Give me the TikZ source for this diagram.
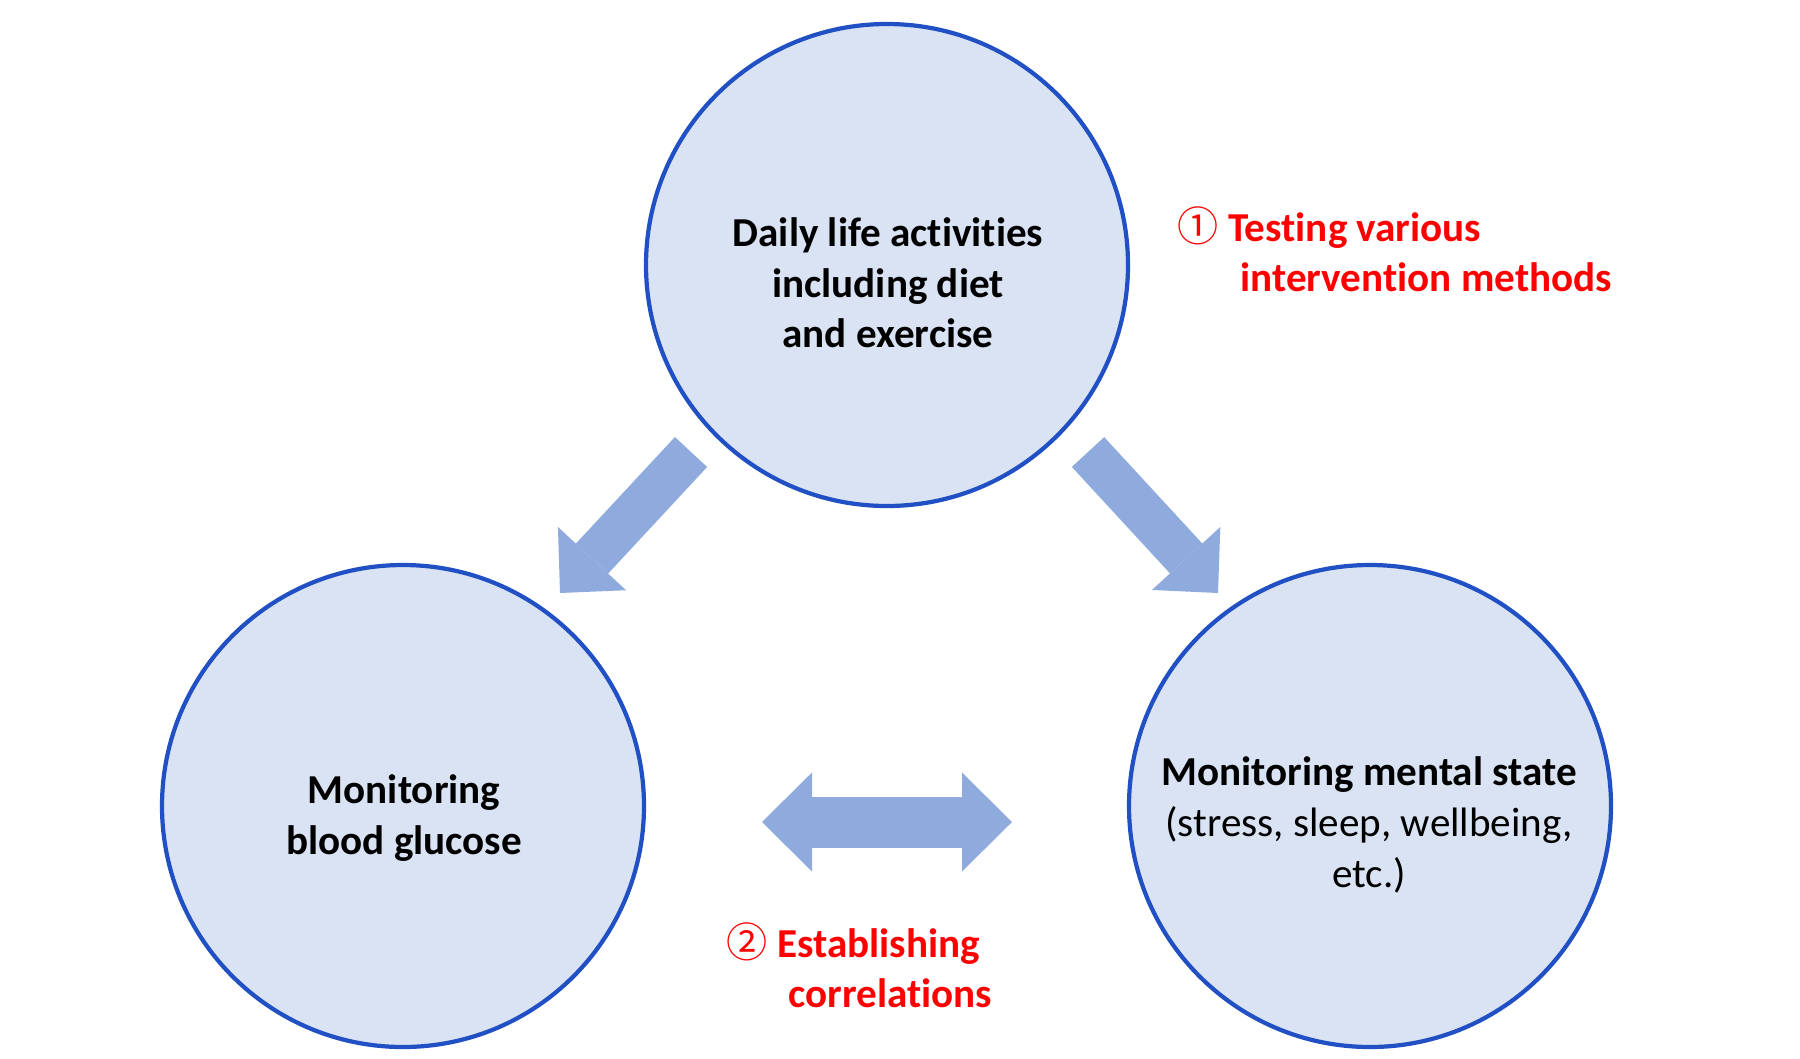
\documentclass[tikz,border=0pt]{standalone}
\usepackage{fontspec}
\setmainfont{Carlito}[Ligatures=CommonOff]
\newfontfamily\circledfont{Noto Sans CJK JP}
\usepackage{xcolor}
\usepackage{tikz}
\usetikzlibrary{arrows.meta}

\definecolor{circfill}{RGB}{218,227,243}
\definecolor{circline}{RGB}{32,80,196}
\definecolor{arrowfill}{RGB}{143,170,220}
\definecolor{notered}{RGB}{255,0,0}

\begin{document}
\begin{tikzpicture}[x=0.1mm, y=-0.1mm,
    stage/.style={circle, draw=circline, line width=1.2pt, fill=circfill, minimum size=48.2mm, inner sep=0pt},
    stagetext/.style={align=center, inner sep=0pt, font=\fontsize{11.7pt}{14.4pt}\selectfont\bfseries},
    note/.style={align=left, anchor=west, inner sep=0pt, text=notered, font=\fontsize{11.7pt}{14.2pt}\selectfont\bfseries},
    flow/.style={draw=arrowfill, line width=4.4mm, -{Triangle[width=9.3mm, length=4.7mm, line width=0pt]}},
    link/.style={draw=arrowfill, line width=5.1mm, {Triangle[width=9.9mm, length=5mm, line width=0pt]}-{Triangle[width=9.9mm, length=5mm, line width=0pt]}}]
			\def \picW {1800}
			\def \picH {1058}
			\useasboundingbox (0,0) rectangle (\picW,\picH);

			%circles
			\node[stage] (daily) at (887,265) {};
			\node[stage] (glucose) at (403,806) {};
			\node[stage] (mental) at (1370,806) {};

			%circle texts
			\node[stagetext] (dailytext) at (888,283) {Daily life activities\\including diet\\and exercise};
			\node[stagetext] (glucosetext) at (404,818) {Monitoring\\blood glucose};
			\node[stagetext] (mentaltext) at (1369,825) {Monitoring mental state\\\mdseries (stress, sleep, wellbeing,\\\mdseries etc.)};

			%arrows from daily life
			\coordinate (dailyoutL) at (691,452);
			\coordinate (glucosein) at (560,593);
			\coordinate (dailyoutR) at (1088,452);
			\coordinate (mentalin) at (1218,593);
			\draw[flow] (dailyoutL) -- (glucosein);
			\draw[flow] (dailyoutR) -- (mentalin);

			%double arrow between monitors
			\coordinate (linkL) at (762,822);
			\coordinate (linkR) at (1012,822);
			\draw[link] (linkL) -- (linkR);

			%red notes
			\node[note] (testing) at (1177,249) {{\circledfont\mdseries ①} Testing various\\\hspace*{17.9pt}intervention methods};
			\node[note] (correl) at (726,965) {{\circledfont\mdseries ②} Establishing\\\hspace*{17.6pt}correlations};
		\end{tikzpicture}
\end{document}
